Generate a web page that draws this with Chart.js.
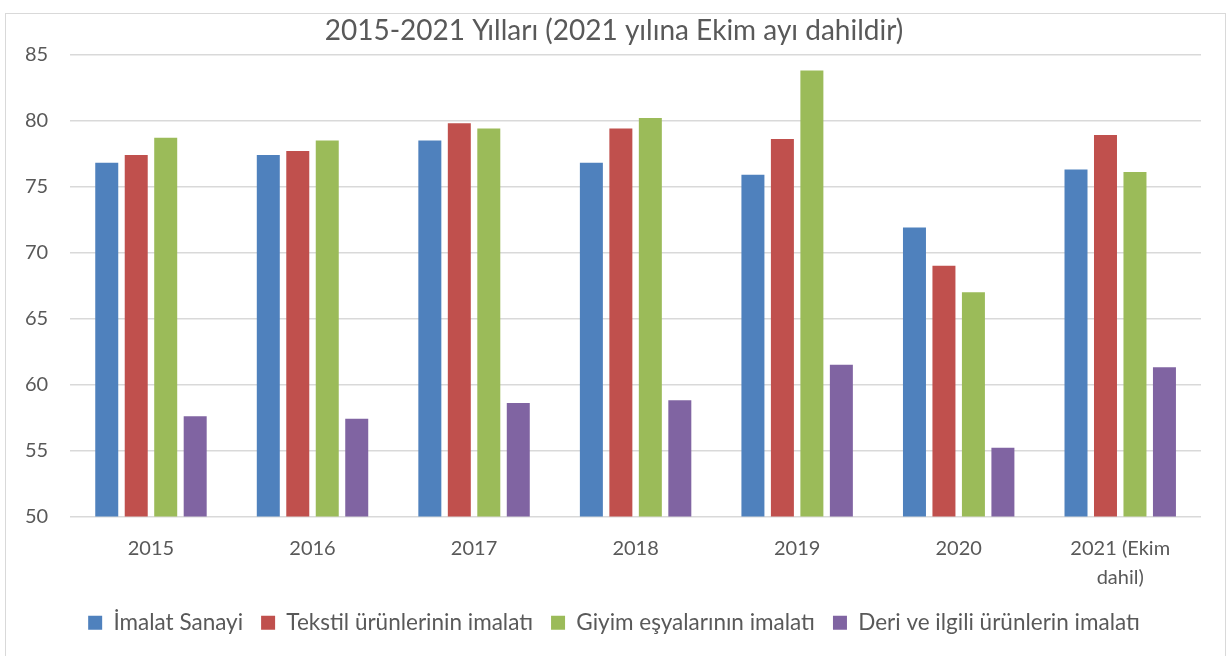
<!DOCTYPE html>
<html lang="tr">

<head>
    <meta charset="UTF-8">
    <title>2015-2021 Yılları</title>
    <script src="https://cdn.jsdelivr.net/npm/chart.js"></script>
    <style>
        body {
            margin: 0;
            background: #fff;
        }

        .chart-box {
            position: absolute;
            left: 5px;
            top: 13px;
            width: 1219px;
            height: 642px;
            border: 1px solid #d9d9d9;
            overflow: hidden;
        }

        #chart {
            position: absolute;
            left: -3px;
            top: 0;
        }
    </style>
</head>

<body>
    <div class="chart-box">
        <canvas id="chart" width="1222" height="642"></canvas>
    </div>

    <script>
        const years = ['2015', '2016', '2017', '2018', '2019', '2020', ['2021 (Ekim', 'dahil)']];
        const imalatSanayi = [76.8, 77.4, 78.5, 76.8, 75.9, 71.9, 76.3];
        const tekstil = [77.4, 77.7, 79.8, 79.4, 78.6, 69.0, 78.9];
        const giyim = [78.7, 78.5, 79.4, 80.2, 83.8, 67.0, 76.1];
        const deri = [57.6, 57.4, 58.6, 58.8, 61.5, 55.2, 61.3];
        const yTicks = [50, 55, 60, 65, 70, 75, 80, 85];

        const textColor = '#595959';
        const fontFamily = 'Lato, "Open Sans", sans-serif';

        const ctx = document.getElementById('chart').getContext('2d');

        new Chart(ctx, {
            type: 'bar',
            data: {
                labels: years,
                datasets: [
                    { label: 'İmalat Sanayi', data: imalatSanayi, backgroundColor: '#4F81BD' },
                    { label: 'Tekstil ürünlerinin imalatı', data: tekstil, backgroundColor: '#C0504D' },
                    { label: 'Giyim eşyalarının imalatı', data: giyim, backgroundColor: '#9BBB59' },
                    { label: 'Deri ve ilgili ürünlerin imalatı', data: deri, backgroundColor: '#8064A2' },
                ],
            },
            options: {
                responsive: false,
                animation: false,
                layout: { padding: { left: 0, right: 0, top: 0, bottom: 12 } },
                datasets: {
                    bar: { categoryPercentage: 0.73, barPercentage: 0.78 }
                },
                plugins: {
                    title: {
                        display: true,
                        text: '2015-2021 Yılları (2021 yılına Ekim ayı dahildir)',
                        color: textColor,
                        font: { family: fontFamily, size: 28, weight: 'normal' },
                        padding: { top: 0, bottom: 7 },
                    },
                    legend: {
                        position: 'bottom',
                        labels: {
                            color: textColor,
                            font: { family: fontFamily, size: 22.5 },
                            boxWidth: 14,
                            boxHeight: 14,
                            padding: 18,
                        },
                    },
                    tooltip: { enabled: false },
                },
                scales: {
                    x: {
                        grid: { display: false },
                        border: { display: false },
                        ticks: {
                            color: textColor,
                            font: { family: fontFamily, size: 20, lineHeight: 1.45 },
                            padding: 10,
                            maxRotation: 0,
                        },
                        afterFit: (scale) => {
                            scale.height -= 9;
                        },
                    },
                    y: {
                        min: 50,
                        max: 85,
                        afterBuildTicks: (axis) => {
                            axis.ticks = yTicks.map(v => ({ value: v }));
                        },
                        grid: { color: '#d9d9d9', lineWidth: 1.5, drawTicks: false },
                        border: { display: false },
                        ticks: {
                            color: textColor,
                            font: { family: fontFamily, size: 20 },
                            padding: 22,
                        },
                    },
                    // empty axis on the right, only keeps a margin so the title stays centred
                    yRight: {
                        position: 'right',
                        grid: { drawOnChartArea: false, drawTicks: false },
                        border: { display: false },
                        ticks: { display: false },
                        afterFit: (scale) => {
                            scale.width = 24;
                        },
                    },
                },
            },
        });
    </script>
</body>

</html>
